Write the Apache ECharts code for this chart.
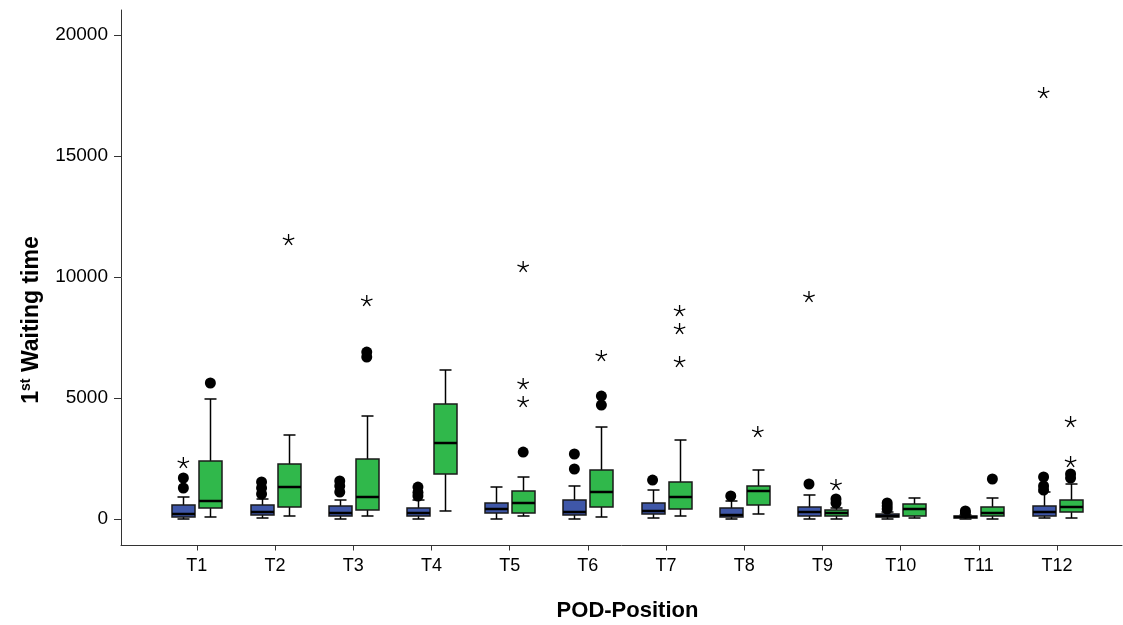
<!DOCTYPE html>
<html><head><meta charset="utf-8">
<script src="https://cdn.jsdelivr.net/npm/echarts@6/dist/echarts.min.js"></script>
<style>html,body{margin:0;padding:0;background:#fff}#c{width:1123px;height:625px}</style>
</head><body><div id="c"></div>
<script>
// Categories
const categories = ['T1','T2','T3','T4','T5','T6','T7','T8','T9','T10','T11','T12'];
// Box stats per category: [lowerWhisker, Q1, median, Q3, upperWhisker]
const blueStats = [
  [0, 83, 207, 579, 909],
  [41, 165, 289, 579, 826],
  [0, 124, 248, 537, 785],
  [0, 124, 248, 455, 785],
  [0, 248, 413, 661, 1322],
  [0, 165, 289, 785, 1364],
  [41, 207, 331, 661, 1198],
  [0, 83, 165, 455, 744],
  [0, 124, 289, 496, 992],
  [0, 83, 124, 207, 289],
  [0, 41, 83, 124, 165],
  [41, 124, 289, 537, 1116]
];
const greenStats = [
  [83, 455, 744, 2397, 4959],
  [124, 496, 1322, 2273, 3471],
  [124, 372, 909, 2479, 4256],
  [331, 1859, 3140, 4752, 6157],
  [124, 248, 661, 1157, 1735],
  [83, 496, 1116, 2025, 3801],
  [124, 413, 909, 1529, 3264],
  [207, 579, 1157, 1364, 2025],
  [0, 124, 248, 372, 455],
  [41, 124, 413, 620, 868],
  [0, 124, 248, 496, 868],
  [41, 289, 496, 785, 1446]
];
// Outliers: [category number (1-based), value]
const blueOutliers = [
  [1,1281],[1,1694],
  [2,1033],[2,1281],[2,1529],
  [3,1116],[3,1364],[3,1570],
  [4,950],[4,1100],[4,1320],
  [6,2066],[6,2686],
  [7,1611],
  [8,950],
  [9,1446],
  [10,413],[10,537],[10,661],
  [11,248],[11,331],
  [12,1198],[12,1364],[12,1735]
];
const blueExtremes = [[1,2314],[9,9173],[12,17603]];
const greenOutliers = [
  [1,5620],
  [3,6694],[3,6900],
  [5,2768],
  [6,4710],[6,5082],
  [9,661],[9,826],
  [11,1653],
  [12,1694],[12,1859]
];
const greenExtremes = [
  [2,11528],[3,9008],
  [5,4834],[5,5578],[5,10412],
  [6,6735],
  [7,6487],[7,7851],[7,8595],
  [8,3595],
  [9,1405],
  [12,2355],[12,4008]
];
const yTicks = [0, 5000, 10000, 15000, 20000];
const xTicks = categories.map((c, i) => i + 1);

const BLUE = '#3F57A8', GREEN = '#30B84B';
const DX = 13.5;

function boxRender(color, dx) {
  return function (params, api) {
    const x = api.value(0);
    const c = v => api.coord([x, v]);
    const wl = c(api.value(1)), q1 = c(api.value(2)), md = c(api.value(3)), q3 = c(api.value(4)), wh = c(api.value(5));
    const cx = Math.round(wl[0] + dx) + 0.5;
    const hw = 11.5, cap = 6;
    const ls = { stroke: '#000', lineWidth: 1.5 };
    return { type: 'group', children: [
      { type: 'line', shape: { x1: cx, y1: wl[1], x2: cx, y2: wh[1] }, style: ls },
      { type: 'line', shape: { x1: cx - cap, y1: wl[1], x2: cx + cap, y2: wl[1] }, style: ls },
      { type: 'line', shape: { x1: cx - cap, y1: wh[1], x2: cx + cap, y2: wh[1] }, style: ls },
      { type: 'rect', shape: { x: cx - hw, y: q3[1], width: 2 * hw, height: Math.max(q1[1] - q3[1], 1) },
        style: { fill: color, stroke: '#1a1a1a', lineWidth: 1.5 } },
      { type: 'line', shape: { x1: cx - hw, y1: md[1], x2: cx + hw, y2: md[1] }, style: { stroke: '#000', lineWidth: 2.5 } }
    ]};
  };
}
function circleRender(dx) {
  return function (params, api) {
    const p = api.coord([api.value(0), api.value(1)]);
    return { type: 'circle', shape: { cx: p[0] + dx, cy: p[1], r: 5.5 }, style: { fill: '#000' } };
  };
}
function starRender(dx) {
  return function (params, api) {
    const p = api.coord([api.value(0), api.value(1)]);
    const cx = p[0] + dx, cy = p[1], r = 6;
    const children = [];
    for (let k = 0; k < 5; k++) {
      const a = -Math.PI / 2 + k * 2 * Math.PI / 5;
      children.push({ type: 'line', shape: { x1: cx, y1: cy, x2: cx + r * Math.cos(a), y2: cy + r * Math.sin(a) },
        style: { stroke: '#000', lineWidth: 1.3 } });
    }
    return { type: 'group', children };
  };
}

const chart = echarts.init(document.getElementById('c'));
chart.setOption({
  animation: false,
  backgroundColor: '#fff',
  grid: { left: 121, top: 10, width: 1001, height: 535.5, containLabel: false, outerBoundsMode: 'none' },
  xAxis: {
    type: 'value', min: 0.03, max: 12.83,
    name: 'POD-Position', nameLocation: 'middle', nameGap: 54,
    nameTextStyle: { fontFamily: 'Liberation Sans', fontWeight: 'bold', fontSize: 22, color: '#000', padding: [0, 0, 0, 12] },
    axisLine: { onZero: false, lineStyle: { color: '#333', width: 1 } },
    axisTick: { customValues: xTicks, length: 5, lineStyle: { color: '#333' } },
    axisLabel: { customValues: xTicks, formatter: v => categories[Math.round(v) - 1] || '',
      fontFamily: 'Liberation Sans', fontSize: 18, color: '#000', margin: 12 },
    splitLine: { show: false }
  },
  yAxis: {
    type: 'value', min: -1095, max: 21033,
    axisLine: { show: true, onZero: false, lineStyle: { color: '#333', width: 1 } },
    axisTick: { show: true, customValues: yTicks, length: 7, lineStyle: { color: '#333' } },
    axisLabel: { customValues: yTicks, formatter: v => String(v), fontFamily: 'Liberation Sans', fontSize: 19, color: '#000', margin: 13 },
    splitLine: { show: false }
  },
  graphic: [{
    type: 'text', x: 32, y: 320, rotation: Math.PI / 2,
    style: {
      text: '{b|1}{s|st}{b| Waiting time}',
      align: 'center', verticalAlign: 'middle',
      rich: {
        b: { fontFamily: 'Liberation Sans', fontWeight: 'bold', fontSize: 23, fill: '#000', lineHeight: 26 },
        s: { fontFamily: 'Liberation Sans', fontWeight: 'bold', fontSize: 14, fill: '#000', verticalAlign: 'top', lineHeight: 26, padding: [0, 0, 10, 0] }
      }
    }
  }],
  series: [
    { type: 'custom', renderItem: boxRender(BLUE, -DX), data: blueStats.map((s, i) => [i + 1, ...s]), encode: { x: 0, y: [1, 2, 3, 4, 5] }, clip: false },
    { type: 'custom', renderItem: boxRender(GREEN, DX), data: greenStats.map((s, i) => [i + 1, ...s]), encode: { x: 0, y: [1, 2, 3, 4, 5] }, clip: false },
    { type: 'custom', renderItem: circleRender(-DX), data: blueOutliers, encode: { x: 0, y: 1 } },
    { type: 'custom', renderItem: circleRender(DX), data: greenOutliers, encode: { x: 0, y: 1 } },
    { type: 'custom', renderItem: starRender(-DX), data: blueExtremes, encode: { x: 0, y: 1 } },
    { type: 'custom', renderItem: starRender(DX), data: greenExtremes, encode: { x: 0, y: 1 } }
  ]
});
</script>
</body></html>
